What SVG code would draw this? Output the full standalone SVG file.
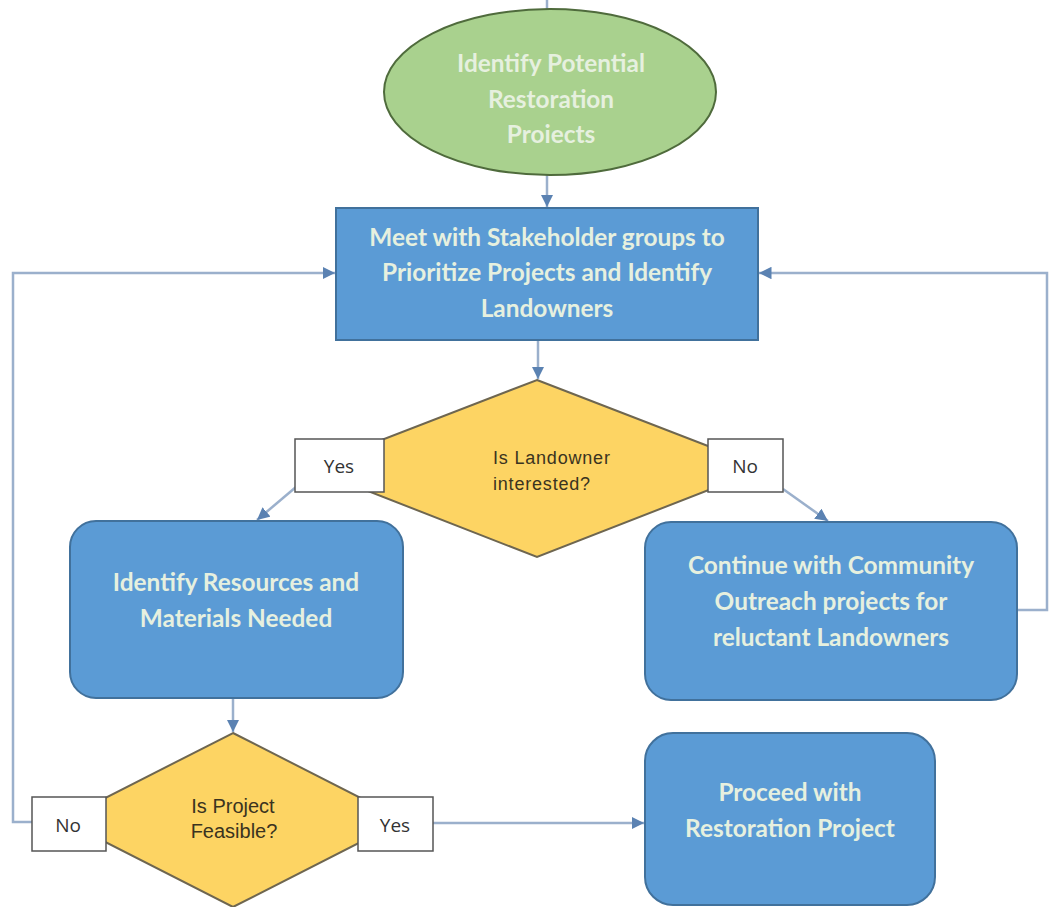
<svg xmlns="http://www.w3.org/2000/svg" width="1049" height="907" viewBox="0 0 1049 907">
<style>
.conn{fill:none;stroke:#9BB0CC;stroke-width:2.5}
.proc{fill:#5B9BD5;stroke:#41719C;stroke-width:2}
.dec{fill:#FDD463;stroke:#6E6650;stroke-width:2}
.lbl{fill:#FFFFFF;stroke:#555555;stroke-width:1.5}
.wt{font-family:Lato,"Open Sans","Liberation Sans",sans-serif;font-size:24.4px;font-weight:bold;fill:#E6F0DF;text-anchor:middle}
.dt{font-family:"Liberation Sans",Arial,sans-serif;fill:#3A3320}
.lt{font-family:"Open Sans","Liberation Sans",sans-serif;font-size:19px;fill:#333333;text-anchor:middle}
</style>
<defs>
<marker id="ah" viewBox="0 0 10 10" refX="10" refY="5" markerWidth="5" markerHeight="5" orient="auto" markerUnits="strokeWidth">
<path d="M0,0 L10,5 L0,10 z" fill="#5B82B2"/>
</marker>
</defs>
<rect width="1049" height="907" fill="#FFFFFF"/>
<g id="connectors">
<line class="conn" x1="547" y1="0" x2="547" y2="10"/>
<line class="conn" x1="547" y1="175" x2="547" y2="207" marker-end="url(#ah)"/>
<line class="conn" x1="538" y1="341" x2="538" y2="379" marker-end="url(#ah)"/>
<line class="conn" x1="296" y1="487" x2="257" y2="520" marker-end="url(#ah)"/>
<line class="conn" x1="783" y1="489" x2="828" y2="521" marker-end="url(#ah)"/>
<line class="conn" x1="233" y1="699" x2="233" y2="732" marker-end="url(#ah)"/>
<polyline class="conn" points="32,822 13,822 13,273 335,273" marker-end="url(#ah)"/>
<line class="conn" x1="433" y1="823" x2="644" y2="823" marker-end="url(#ah)"/>
<polyline class="conn" points="1018,610 1047,610 1047,273 759,273" marker-end="url(#ah)"/>
</g>
<g id="start">
<ellipse cx="550" cy="92" rx="166" ry="83" fill="#A9D18E" stroke="#4F6B3C" stroke-width="2"/>
<text class="wt" x="551" y="72">Identify Potential</text>
<text class="wt" x="551" y="108">Restoration</text>
<text class="wt" x="551" y="143">Proiects</text>
</g>
<g id="meet">
<rect class="proc" x="336" y="208" width="422" height="132"/>
<text class="wt" x="547" y="246">Meet with Stakeholder groups to</text>
<text class="wt" x="547" y="281">Prioritize Projects and Identify</text>
<text class="wt" x="547" y="317">Landowners</text>
</g>
<g id="dec1">
<polygon class="dec" points="537,380 765,468 537,557 309,468"/>
<text class="dt" x="493" y="464" font-size="18" letter-spacing="0.8">Is Landowner</text>
<text class="dt" x="493" y="490" font-size="18" letter-spacing="0.8">interested?</text>
</g>
<g id="yes1">
<rect class="lbl" x="295" y="439" width="89" height="53"/>
<text class="lt" x="339" y="473">Yes</text>
</g>
<g id="no1">
<rect class="lbl" x="708" y="439" width="75" height="53"/>
<text class="lt" x="745" y="473">No</text>
</g>
<g id="resources">
<rect class="proc" x="70" y="521" width="333" height="177" rx="26"/>
<text class="wt" x="236" y="591">Identify Resources and</text>
<text class="wt" x="236" y="627">Materials Needed</text>
</g>
<g id="outreach">
<rect class="proc" x="645" y="522" width="372" height="178" rx="26"/>
<text class="wt" x="831" y="574">Continue with Community</text>
<text class="wt" x="831" y="610">Outreach projects for</text>
<text class="wt" x="831" y="646">reluctant Landowners</text>
</g>
<g id="dec2">
<polygon class="dec" points="233,733 404,820 233,907 62,820"/>
<text class="dt" x="233" y="813" font-size="20" text-anchor="middle">Is Project</text>
<text class="dt" x="234" y="838" font-size="20" text-anchor="middle">Feasible?</text>
</g>
<g id="no2">
<rect class="lbl" x="32" y="797" width="74" height="54"/>
<text class="lt" x="68" y="832">No</text>
</g>
<g id="yes2">
<rect class="lbl" x="358" y="797" width="75" height="54"/>
<text class="lt" x="395" y="832">Yes</text>
</g>
<g id="proceed">
<rect class="proc" x="645" y="733" width="290" height="172" rx="28"/>
<text class="wt" x="790" y="801">Proceed with</text>
<text class="wt" x="790" y="837">Restoration Project</text>
</g>
</svg>
